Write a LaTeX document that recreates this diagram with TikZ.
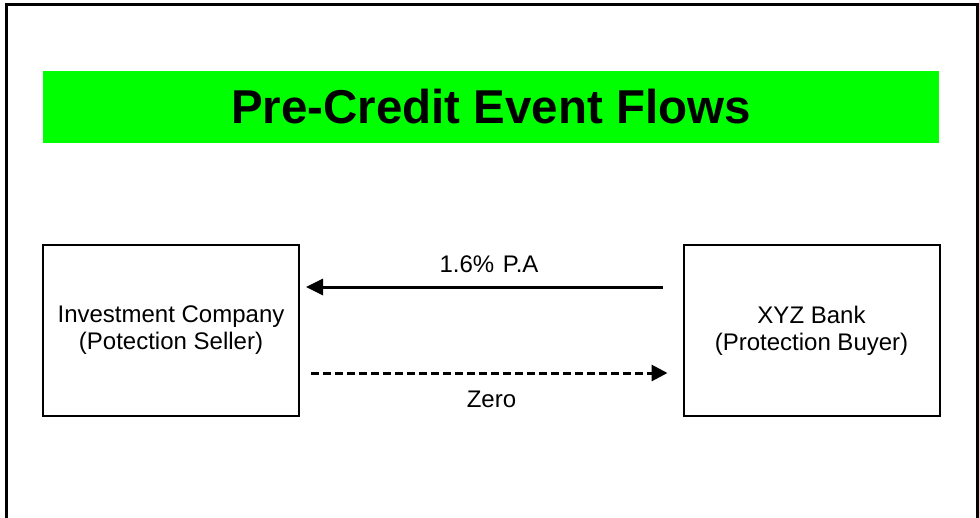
\documentclass[tikz,border=0pt]{standalone}
\usepackage{fontspec}
\setmainfont{Liberation Sans}
\usetikzlibrary{arrows.meta}
\definecolor{titlegreen}{RGB}{0,255,0}
\begin{document}
\begin{tikzpicture}[x=1pt,y=-1pt,
  frame/.style={line width=3pt},
  banner/.style={fill=titlegreen,draw=none,minimum width=896pt,minimum height=72pt,inner sep=0pt,
    font=\fontsize{47.5}{50}\selectfont\bfseries},
  partybox/.style={draw,line width=2pt,fill=white,minimum width=256pt,minimum height=171pt,inner sep=0pt,
    align=center,font=\fontsize{24}{27}\selectfont},
  lbl/.style={anchor=base,inner sep=0pt,font=\fontsize{24}{27}\selectfont},
  flow/.style={line width=3pt,-{Triangle[length=17pt,width=16pt]}},
  dflow/.style={line width=3pt,dash pattern=on 8pt off 4pt,-{Triangle[length=16pt,width=16pt]}}
]
\useasboundingbox (0,0) rectangle (979,517);
\draw[frame] (6,530) -- (6,4.5) -- (977,4.5) -- (977,530);
\node[banner] (title) at (491,107) {Pre-Credit Event Flows};
\node[partybox] (L) at (171,330.5) {Investment Company\\(Potection Seller)};
\node[partybox] (R) at (811.5,330.5) {XYZ Bank\\(Protection Buyer)};
\coordinate (ytop) at (0,287);
\coordinate (ybot) at (0,373);
\draw[flow,shorten <=20pt,shorten >=6pt] (R.west |- ytop) -- (L.east |- ytop);
\draw[dflow,shorten <=11pt,shorten >=15pt] (L.east |- ybot) -- (R.west |- ybot);
\node[lbl] (pa) at (489,272) {1.6\%\hspace{2pt} P.A};
\node[lbl] (zero) at (491.5,407) {Zero};
\end{tikzpicture}
\end{document}
